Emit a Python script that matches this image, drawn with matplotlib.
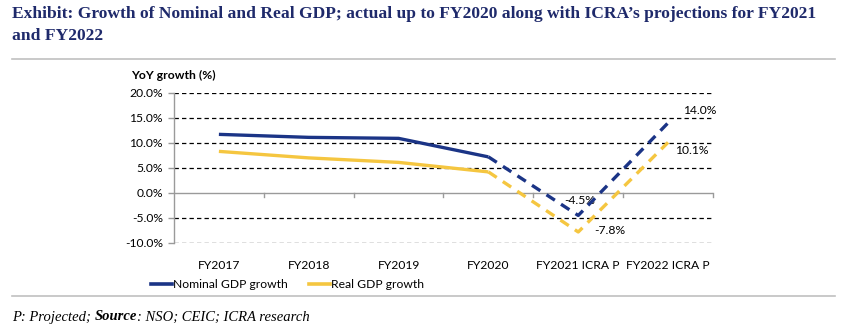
import matplotlib
matplotlib.use("Agg")
import matplotlib.pyplot as plt
from matplotlib.lines import Line2D

categories = ["FY2017", "FY2018", "FY2019", "FY2020", "FY2021 ICRA P", "FY2022 ICRA P"]
nominal = [11.7, 11.1, 10.9, 7.2, -4.5, 14.0]
real = [8.3, 7.0, 6.1, 4.2, -7.8, 10.1]
yticks = [-10, -5, 0, 5, 10, 15, 20]

NAVY = "#1B3486"
GOLD = "#F5C640"
TITLE = "#1F2A6B"
SANS = ["Lato", "DejaVu Sans"]
FS = 8.7

fig = plt.figure(figsize=(8.47, 3.36), dpi=100)
ax = fig.add_axes([0.2054, 0.2768, 0.6364, 0.447])

x = list(range(len(categories)))
lw = 2.4
# actual values (solid) and projections (dashed)
ax.plot(x[:4], nominal[:4], color=NAVY, lw=lw, solid_capstyle="butt", zorder=4)
ax.plot(x[3:], nominal[3:], color=NAVY, lw=lw, ls=(0, (3, 2.2)), zorder=4)
ax.plot(x[:4], real[:4], color=GOLD, lw=lw, solid_capstyle="butt", zorder=3)
ax.plot(x[3:], real[3:], color=GOLD, lw=lw, ls=(0, (3, 2.2)), zorder=3)

ax.set_xlim(-0.5, len(categories) - 0.5)
ax.set_ylim(-10, 20)
ax.set_yticks(yticks)
ax.set_yticklabels([f"{v:.1f}%" for v in yticks], fontsize=FS, family=SANS)
for v in yticks:
    if v != 0:
        ax.axhline(v, color="black", lw=0.9, ls=(0, (3.5, 2.5)), zorder=1)
ax.axhline(0, color="#9a9a9a", lw=1.0, zorder=2)

# category boundary ticks on the zero line
for b in [i + 0.5 for i in range(len(categories))]:
    ax.plot([b, b], [0, -0.9], color="#9a9a9a", lw=1.0, zorder=2, clip_on=False)

ax.set_xticks(x)
ax.set_xticklabels(categories, fontsize=FS, family=SANS)
ax.tick_params(axis="x", length=0, pad=12)
ax.tick_params(axis="y", length=4, color="#9a9a9a", width=1.0, pad=4)
for s in ["top", "right", "bottom"]:
    ax.spines[s].set_visible(False)
ax.spines["left"].set_color("#9a9a9a")
ax.spines["left"].set_linewidth(1.0)

# value labels
ax.annotate(f"{nominal[5]:.1f}%", (x[5], nominal[5]), xytext=(11, 9), textcoords="offset points",
            fontsize=FS, family=SANS, ha="left", va="center")
ax.annotate(f"{real[5]:.1f}%", (x[5], real[5]), xytext=(5, -6), textcoords="offset points",
            fontsize=FS, family=SANS, ha="left", va="center")
ax.annotate(f"{nominal[4]:.1f}%", (x[4], nominal[4]), xytext=(1, 11), textcoords="offset points",
            fontsize=FS, family=SANS, ha="center", va="center")
ax.annotate(f"{real[4]:.1f}%", (x[4], real[4]), xytext=(23, 1), textcoords="offset points",
            fontsize=FS, family=SANS, ha="center", va="center")

fig.text(131 / 847, 1 - 75 / 336, "YoY growth (%)", fontsize=FS, family=SANS,
         fontweight="bold", ha="left", va="center")

# legend
leg_y = 1 - 284 / 336
fig.add_artist(Line2D([151 / 847, 172 / 847], [leg_y, leg_y], color=NAVY, lw=2.6))
fig.text(173 / 847, leg_y, "Nominal GDP growth", fontsize=FS, family=SANS, ha="left", va="center")
fig.add_artist(Line2D([309 / 847, 330 / 847], [leg_y, leg_y], color=GOLD, lw=2.6))
fig.text(331 / 847, leg_y, "Real GDP growth", fontsize=FS, family=SANS, ha="left", va="center")

# title, rules and source note
fig.text(12 / 847, 1 - 14 / 336,
         "Exhibit: Growth of Nominal and Real GDP; actual up to FY2020 along with ICRA\u2019s projections for FY2021",
         fontsize=12.6, family="Liberation Serif", fontweight="bold", color=TITLE, ha="left", va="center")
fig.text(12 / 847, 1 - 36 / 336, "and FY2022",
         fontsize=12.6, family="Liberation Serif", fontweight="bold", color=TITLE, ha="left", va="center")
fig.add_artist(Line2D([12 / 847, 835 / 847], [1 - 59 / 336, 1 - 59 / 336], color="#c0c0c0", lw=1.2))
fig.add_artist(Line2D([12 / 847, 835 / 847], [1 - 296 / 336, 1 - 296 / 336], color="#c0c0c0", lw=1.2))

# source note with mixed styles, laid out piece by piece
note_y = 1 - 317 / 336
pieces = [("P: Projected; ", "normal"), ("Source", "bold"), (": NSO; CEIC; ICRA research", "normal")]
renderer = fig.canvas.get_renderer()
xpos = 12 / 847
for txt, wt in pieces:
    t = fig.text(xpos, note_y, txt, fontsize=10.5, family="Liberation Serif", style="italic",
                 fontweight=wt, ha="left", va="center")
    bb = t.get_window_extent(renderer=renderer)
    xpos += bb.width / fig.bbox.width

fig.savefig("out.png", dpi=100, facecolor="white")
